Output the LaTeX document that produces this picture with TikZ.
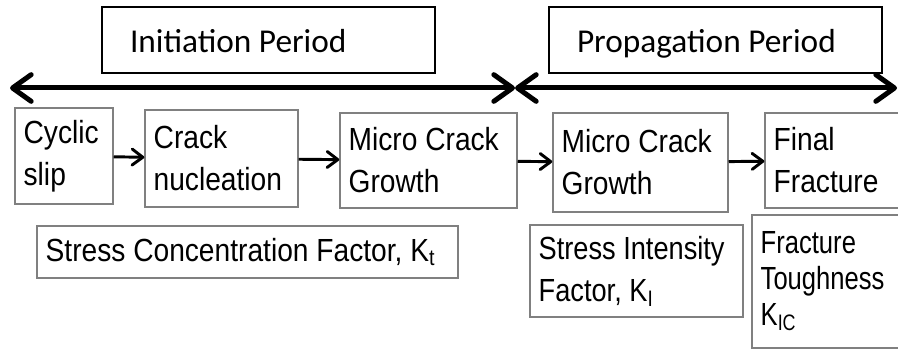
\documentclass[tikz,border=0pt]{standalone}
\usepackage{fontspec}
\newfontfamily\stagefont[FakeStretch=0.88]{Liberation Sans}
\newfontfamily\midfont[FakeStretch=0.85]{Liberation Sans}
\newfontfamily\narrowfont[FakeStretch=0.8]{Liberation Sans}
\newfontfamily\periodfont{Carlito}
\usetikzlibrary{arrows.meta}

\begin{document}
\begin{tikzpicture}[x=0.75pt,y=-0.75pt,
	period/.style={draw=black,line width=1.7pt,inner xsep=21pt,inner ysep=0pt,text height=22pt,text depth=2.5pt,align=flush left,font=\periodfont\fontsize{25}{30}\selectfont},
	stage/.style={draw=black!50,line width=1.1pt,inner xsep=6.5pt,inner ysep=0pt,align=flush left,font=\stagefont\fontsize{24}{31.5}\selectfont},
	timeline/.style={line width=3.75pt,{Straight Barb[length=14pt,width=20pt,round]}-{Straight Barb[length=14pt,width=20pt,round]}},
	flow/.style={line width=2.2pt,-{Straight Barb[length=8pt,width=12pt,round]}}]
\useasboundingbox (0,0) rectangle (898,349);
\node[period,text width=207.75pt,minimum height=49.5pt](init) at (268.5,40){Initiation Period};
\node[period,text width=207.75pt,minimum height=49.5pt](prop) at (715.5,40){Propagation Period};
\coordinate (tl) at (10,88);
\coordinate (tm) at (515,88);
\coordinate (tr) at (897,88);
\draw[timeline](tl)--(tm);
\draw[timeline](tm)--(tr);

\node[stage,text width=60.5pt,minimum height=72pt](slip) at (64,156){Cyclic\\slip};
\node[stage,text width=101.75pt,minimum height=72.75pt](nucl) at (221.5,158.5){Crack\\nucleation};
\node[stage,text width=119.75pt,minimum height=71.25pt](micro1) at (428.5,160.5){Micro Crack\\Growth};
\node[stage,text width=118.25pt,minimum height=74.25pt](micro2) at (640.5,162.5){Micro Crack\\Growth};
\node[stage,text width=92pt,minimum height=71.25pt](final) at (835,160.5){Final\\Fracture};
\draw[flow](slip)--(nucl);
\draw[flow](nucl)--(micro1);
\draw[flow](micro1)--(micro2);
\draw[flow](micro2)--(final);

\node[stage,text width=302.75pt,minimum height=39pt](kt) at (247.5,252){Stress Concentration Factor, K\textsubscript{t}};
\node[stage,text width=146.75pt,minimum height=69pt,font=\midfont\fontsize{24}{31.5}\selectfont](ki) at (636.5,271){Stress Intensity\\Factor, K\textsubscript{I}};
\node[stage,text width=101.75pt,minimum height=99.75pt,font=\narrowfont\fontsize{24}{27}\selectfont](kic) at (828.5,281.5){Fracture\\Toughness\\K\textsubscript{IC}};
\end{tikzpicture}
\end{document}
